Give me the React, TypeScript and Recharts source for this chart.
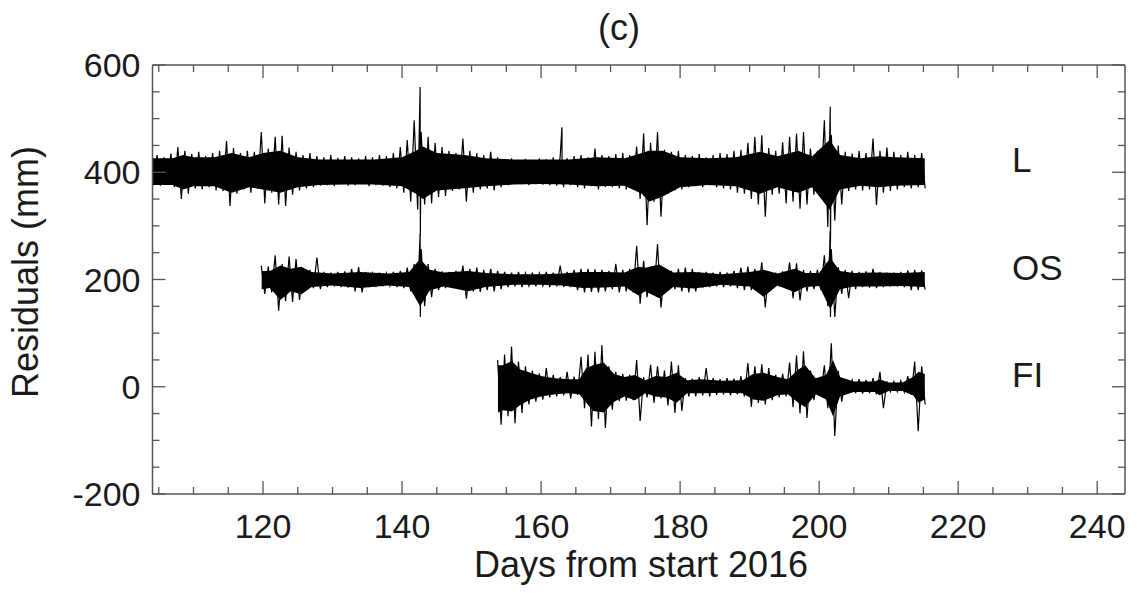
import React from 'react';
import { ComposedChart, Line, Area, XAxis, YAxis } from 'recharts';

const FONT = "'Liberation Sans', Arial, Helvetica, sans-serif";
const AXIS = '#555';
const TXT = '#1a1a1a';

// ---- axis ticks ----
const xTicks = [105, 110, 115, 120, 125, 130, 135, 140, 145, 150, 155, 160, 165, 170, 175, 180, 185, 190, 195, 200, 205, 210, 215, 220, 225, 230, 235, 240];
const xMajor = [120, 140, 160, 180, 200, 220, 240];
const yTicks = [-200, -150, -100, -50, 0, 50, 100, 150, 200, 250, 300, 350, 400, 450, 500, 550, 600];
const yMajor = [-200, 0, 200, 400, 600];
const xDomain = [104.1, 244];
const yDomain = [-200, 600];

// ---- L series (offset +400): daily envelope from day 104 ----
const lStart = 104;
const lHigh = [430,
  432, 428, 435, 447, 440, 434, 438, 430, 436, 440,
  458, 445, 436, 440, 438, 475, 444, 466, 468, 446,
  438, 432, 436, 430, 428, 432, 427, 430, 428, 426,
  430, 428, 432, 430, 436, 447, 460, 497, 475, 466,
  455, 447, 440, 436, 463, 440, 436, 432, 438, 428,
  424, 426, 422, 425, 422, 426, 424, 428, 430, 426,
  430, 432, 428, 444, 432, 430, 434, 436, 432, 448,
  472, 455, 475, 442, 438, 440, 432, 430, 434, 428,
  432, 436, 434, 440, 442, 455, 466, 469, 445, 440,
  456, 466, 472, 475, 444, 440, 497, 470, 450, 438,
  435, 440, 436, 463, 440, 446, 438, 432, 438, 432,
  436];
const lLow = [376,
  375, 378, 372, 350, 360, 370, 368, 372, 366, 365,
  337, 360, 368, 362, 370, 342, 362, 340, 337, 358,
  366, 370, 372, 375, 376, 374, 378, 375, 376, 378,
  374, 376, 375, 372, 370, 362, 345, 330, 340, 342,
  354, 356, 365, 368, 345, 362, 368, 370, 366, 372,
  376, 378, 378, 376, 378, 377, 376, 375, 374, 376,
  372, 370, 374, 368, 372, 372, 370, 368, 372, 350,
  301, 345, 317, 360, 366, 368, 372, 374, 372, 376,
  372, 370, 368, 362, 360, 350, 340, 317, 358, 360,
  342, 345, 332, 340, 358, 362, 298, 310, 340, 365,
  368, 366, 368, 339, 362, 365, 368, 372, 370, 372,
  370];
const lSpikeDays = [142.6, 163.0, 201.6];
const lSpikeHigh = [559, 484, 522];
const lSpikeLow = [282, 380, 267];
const lCoreDays = [104, 107, 108.5, 110, 113, 115.5, 118, 120, 122.5, 125, 128, 132, 136, 140, 142, 143, 145, 149, 152, 156, 160, 164, 168, 172, 174.5, 175.5, 177.5, 180, 184, 188, 191.5, 194, 197, 199, 201.5, 203, 206, 208.5, 211, 215.2];
const lCoreHigh = [426, 426, 432, 428, 428, 436, 428, 436, 440, 428, 424, 424, 424, 428, 440, 448, 436, 432, 426, 424, 424, 424, 428, 426, 436, 440, 440, 428, 426, 428, 438, 430, 440, 430, 460, 432, 426, 430, 428, 426];
const lCoreLow = [376, 376, 368, 374, 374, 362, 372, 368, 362, 372, 376, 377, 377, 374, 360, 350, 366, 370, 374, 377, 378, 377, 374, 375, 360, 345, 355, 372, 376, 374, 360, 372, 362, 372, 330, 368, 375, 372, 375, 376];

// ---- OS series (offset +200): daily envelope from day 120 ----
const osStart = 120;
const osHigh = [
  226, 224, 245, 229, 243, 238, 220, 218, 241, 214,
  213, 214, 215, 220, 223, 214, 212, 213, 212, 214,
  216, 222, 229, 257, 229, 220, 215, 214, 216, 226,
  220, 222, 218, 220, 216, 214, 213, 214, 212, 213,
  212, 214, 213, 226, 214, 218, 220, 220, 219, 218,
  216, 229, 218, 220, 263, 235, 224, 266, 218, 216,
  220, 222, 220, 214, 214, 213, 214, 213, 216, 222,
  224, 220, 232, 214, 213, 215, 232, 230, 218, 216,
  218, 245, 257, 223, 218, 216, 214, 215, 220, 214,
  213, 213, 214, 217, 218, 217];
const osLow = [
  173, 176, 142, 160, 158, 162, 183, 184, 182, 186,
  187, 186, 185, 178, 176, 186, 188, 187, 188, 186,
  184, 178, 173, 150, 167, 180, 184, 186, 184, 164,
  178, 177, 180, 178, 182, 186, 187, 186, 188, 187,
  188, 186, 187, 186, 186, 180, 176, 177, 176, 178,
  182, 176, 178, 176, 155, 167, 176, 148, 180, 182,
  178, 176, 178, 185, 186, 187, 186, 187, 184, 180,
  180, 178, 148, 186, 187, 184, 165, 161, 178, 182,
  180, 150, 130, 173, 165, 182, 186, 185, 184, 186,
  187, 187, 186, 180, 180, 181];
const osSpikeDays = [142.6, 201.6];
const osSpikeHigh = [285, 291];
const osSpikeLow = [130, 130];
const osCoreDays = [119.8, 121, 122.5, 124, 125.5, 127, 130, 134, 138, 141, 142.6, 144, 146, 149.5, 152, 156, 160, 163, 166, 169, 172, 174, 175, 177, 179, 182, 186, 190, 192, 194, 196.5, 198, 200, 201.6, 203, 205, 208, 212, 215.2];
const osCoreHigh = [216, 216, 226, 220, 224, 214, 211, 214, 211, 214, 238, 218, 213, 216, 212, 210, 210, 211, 214, 214, 213, 224, 222, 228, 213, 214, 210, 214, 218, 211, 220, 212, 212, 240, 216, 212, 213, 212, 214];
const osCoreLow = [182, 184, 162, 178, 172, 186, 189, 184, 189, 186, 150, 180, 187, 178, 186, 190, 190, 189, 184, 185, 187, 170, 178, 165, 186, 183, 190, 187, 168, 189, 176, 186, 188, 145, 182, 187, 187, 188, 186];

// ---- FI series (offset 0): daily envelope from day 154 ----
const fiStart = 154;
const fiHigh = [
  50, 60, 75, 47, 38, 30, 25, 35, 22, 18,
  28, 19, 56, 60, 65, 78, 38, 28, 24, 22,
  50, 18, 41, 38, 30, 47, 40, 16, 15, 18,
  35, 16, 14, 16, 15, 20, 44, 38, 42, 35,
  22, 24, 45, 58, 66, 30, 15, 40, 81, 30,
  14, 13, 14, 13, 16, 28, 10, 10, 11, 20,
  47, 38];
const fiLow = [
  -71, -55, -68, -49, -33, -28, -24, -20, -18, -16,
  -22, -15, -40, -74, -60, -77, -43, -27, -26, -25,
  -64, -20, -30, -22, -35, -49, -45, -18, -18, -16,
  -18, -15, -14, -16, -14, -18, -37, -30, -33, -25,
  -20, -18, -38, -50, -58, -25, -14, -40, -92, -28,
  -12, -12, -13, -12, -14, -40, -9, -9, -10, -15,
  -83, -33];
const fiSpikeDays: number[] = [];
const fiSpikeHigh: number[] = [];
const fiSpikeLow: number[] = [];
const fiCoreDays = [153.8, 154.5, 155.8, 157, 158.5, 160, 162, 164, 165.5, 166.5, 167.5, 169, 170.5, 172, 173.5, 175, 176.5, 178, 179.5, 181, 183, 186, 189, 190.5, 192, 194, 195.5, 197, 198, 199.5, 201, 202, 203, 205, 208, 208.7, 210, 212, 213.5, 214.3, 215.2];
const fiCoreHigh = [40, 40, 48, 32, 26, 20, 16, 14, 14, 35, 40, 45, 24, 18, 22, 12, 20, 18, 26, 12, 14, 11, 12, 24, 26, 18, 14, 32, 40, 16, 22, 50, 18, 10, 10, 14, 8, 8, 18, 28, 24];
const fiCoreLow = [-48, -44, -46, -34, -24, -18, -14, -12, -14, -30, -45, -48, -28, -18, -25, -12, -18, -20, -30, -12, -12, -11, -12, -24, -26, -16, -14, -30, -38, -14, -24, -55, -18, -10, -10, -16, -8, -8, -16, -30, -24];

type Pt = { x: number; y: number };

function zigzag(start: number, hi: number[], lo: number[], sDays: number[], sHi: number[], sLo: number[]): Pt[] {
  const pts: Pt[] = [];
  hi.forEach((h, i) => {
    const d = start + i;
    pts.push({ x: d - 0.25, y: h });
    pts.push({ x: d + 0.25, y: lo[i] });
  });
  sDays.forEach((d, i) => {
    pts.push({ x: d, y: sHi[i] });
    pts.push({ x: d + 0.03, y: sLo[i] });
  });
  pts.sort((a, b) => a.x - b.x);
  return pts;
}

function band(days: number[], hi: number[], lo: number[]) {
  return days.map((d, i) => ({ x: d, range: [lo[i], hi[i]] }));
}

const lZig = zigzag(lStart, lHigh, lLow, lSpikeDays, lSpikeHigh, lSpikeLow);
const osZig = zigzag(osStart, osHigh, osLow, osSpikeDays, osSpikeHigh, osSpikeLow);
const fiZig = zigzag(fiStart, fiHigh, fiLow, fiSpikeDays, fiSpikeHigh, fiSpikeLow);
const lBand = band(lCoreDays, lCoreHigh, lCoreLow);
const osBand = band(osCoreDays, osCoreHigh, osCoreLow);
const fiBand = band(fiCoreDays, fiCoreHigh, fiCoreLow);

const MAJ = 13;
const MIN = 7;
const FS = 34;

const XTickBottom = (props: any) => {
  const { x, y, payload } = props;
  const v = payload.value;
  const major = xMajor.includes(v);
  return (
    <g>
      <line x1={x} y1={y} x2={x} y2={y - (major ? MAJ : MIN)} stroke={AXIS} strokeWidth={1.3} />
      {major && (
        <text x={x} y={y + 44} textAnchor="middle" fontFamily={FONT} fontSize={FS} fill={TXT}>{v}</text>
      )}
    </g>
  );
};

const XTickTop = (props: any) => {
  const { x, y, payload } = props;
  const major = xMajor.includes(payload.value);
  return <line x1={x} y1={y} x2={x} y2={y + (major ? MAJ : MIN)} stroke={AXIS} strokeWidth={1.3} />;
};

const YTickLeft = (props: any) => {
  const { x, y, payload } = props;
  const v = payload.value;
  const major = yMajor.includes(v);
  return (
    <g>
      <line x1={x} y1={y} x2={x + (major ? MAJ : MIN)} y2={y} stroke={AXIS} strokeWidth={1.3} />
      {major && (
        <text x={x - 12} y={y + 12} textAnchor="end" fontFamily={FONT} fontSize={FS} fill={TXT}>{v}</text>
      )}
    </g>
  );
};

const YTickRight = (props: any) => {
  const { x, y, payload } = props;
  const major = yMajor.includes(payload.value);
  return <line x1={x} y1={y} x2={x - (major ? MAJ : MIN)} y2={y} stroke={AXIS} strokeWidth={1.3} />;
};

export default function App() {
  const axisLine = { stroke: AXIS, strokeWidth: 1.5 };
  return (
    <div style={{ position: 'absolute', left: 0, top: 0, width: 1137, height: 607, background: '#fff' }}>
      <ComposedChart width={1137} height={607} margin={{ top: 64, right: 11, bottom: 112, left: 151.5 }}>
        <XAxis xAxisId="b" type="number" dataKey="x" domain={xDomain} allowDataOverflow ticks={xTicks} interval={0}
          tickSize={0} tickMargin={0} tickLine={false} axisLine={axisLine} tick={(p: any) => <XTickBottom {...p} />} height={1} />
        <XAxis xAxisId="t" orientation="top" type="number" dataKey="x" domain={xDomain} allowDataOverflow ticks={xTicks} interval={0}
          tickSize={0} tickMargin={0} tickLine={false} axisLine={axisLine} tick={(p: any) => <XTickTop {...p} />} height={1} />
        <YAxis yAxisId="l" type="number" domain={yDomain} allowDataOverflow ticks={yTicks} interval={0}
          tickSize={0} tickMargin={0} tickLine={false} axisLine={axisLine} tick={(p: any) => <YTickLeft {...p} />} width={1} />
        <YAxis yAxisId="r" orientation="right" type="number" domain={yDomain} allowDataOverflow ticks={yTicks} interval={0}
          tickSize={0} tickMargin={0} tickLine={false} axisLine={axisLine} tick={(p: any) => <YTickRight {...p} />} width={1} />

        <Area data={lBand} xAxisId="b" yAxisId="l" dataKey="range" type="linear" fill="#000" fillOpacity={1} stroke="none" isAnimationActive={false} />
        <Area data={osBand} xAxisId="b" yAxisId="l" dataKey="range" type="linear" fill="#000" fillOpacity={1} stroke="none" isAnimationActive={false} />
        <Area data={fiBand} xAxisId="b" yAxisId="l" dataKey="range" type="linear" fill="#000" fillOpacity={1} stroke="none" isAnimationActive={false} />
        <Line data={lZig} xAxisId="b" yAxisId="l" dataKey="y" type="linear" stroke="#000" strokeWidth={1.2} dot={false} isAnimationActive={false} />
        <Line data={osZig} xAxisId="b" yAxisId="l" dataKey="y" type="linear" stroke="#000" strokeWidth={1.2} dot={false} isAnimationActive={false} />
        <Line data={fiZig} xAxisId="b" yAxisId="l" dataKey="y" type="linear" stroke="#000" strokeWidth={1.2} dot={false} isAnimationActive={false} />
      </ComposedChart>
      <svg width={1137} height={607} style={{ position: 'absolute', left: 0, top: 0, pointerEvents: 'none' }}>
        <text x={619} y={40} textAnchor="middle" fontFamily={FONT} fontSize={36} fill={TXT}>(c)</text>
        <text x={641} y={577} textAnchor="middle" fontFamily={FONT} fontSize={36} fill={TXT}>Days from start 2016</text>
        <text transform="translate(38,272) rotate(-90)" textAnchor="middle" fontFamily={FONT} fontSize={36} fill={TXT}>Residuals (mm)</text>
        <text x={1012} y={172} fontFamily={FONT} fontSize={35} fill={TXT}>L</text>
        <text x={1012} y={280} fontFamily={FONT} fontSize={35} fill={TXT}>OS</text>
        <text x={1012} y={387} fontFamily={FONT} fontSize={35} fill={TXT}>FI</text>
      </svg>
    </div>
  );
}
